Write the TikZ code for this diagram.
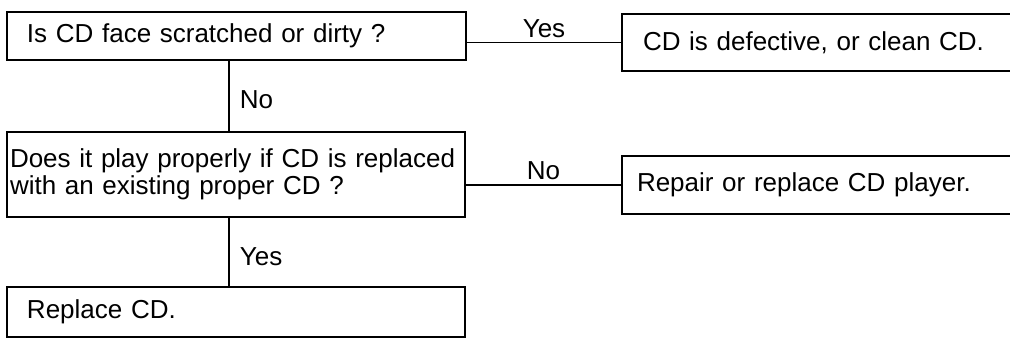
\documentclass[tikz,border=0pt]{standalone}
\usepackage{fontspec}
\setmainfont{Liberation Sans}
\usetikzlibrary{positioning}

\begin{document}
\begin{tikzpicture}[x=1pt, y=-1pt,
  box/.style={draw, line width=2pt, anchor=north west, inner ysep=0pt,
    outer sep=0pt, align=left, font=\fontsize{26}{27}\selectfont},
  link/.style={line width=1.9pt},
  answer/.style={inner sep=0pt, font=\fontsize{26}{27}\selectfont}]

  % frame of the page (right boxes run off the edge)
  \path[use as bounding box, clip] (0,0) rectangle (1010,341);

  % 1) question boxes (left column)
  \node[box, text width=419pt, inner xsep=20pt, minimum height=48pt] (face) at (7,12)
    {Is CD face scratched or dirty ?};
  \node[box, text width=452pt, inner xsep=3pt, minimum height=85pt] (swap) at (7,132)
    {Does it play properly if CD is replaced\\with an existing proper CD ?};
  \node[box, text width=418pt, inner xsep=20pt, minimum height=50pt] (replace) at (7,287)
    {Replace CD.};

  % 2) result boxes (right column)
  \node[box, text width=356pt, inner xsep=21pt, minimum height=57pt] (clean) at (622,14)
    {CD is defective, or clean CD.};
  \node[box, text width=368pt, inner xsep=15pt, minimum height=58pt] (repair) at (622,156)
    {Repair or replace CD player.};

  % 3) connectors
  \coordinate (stem) at (229,0);
  \draw[link] (clean.west -| face.east) -- node[answer, above=4pt] (yes1) {Yes} (clean.west);
  \draw[link] (face.south -| stem) -- node[answer, right=10pt, pos=0.55] (no1) {No} (swap.north -| stem);
  \draw[link] (repair.west -| swap.east) -- node[answer, above=4pt] (no2) {No} (repair.west);
  \draw[link] (swap.south -| stem) -- node[answer, right=10pt, pos=0.57] (yes2) {Yes} (replace.north -| stem);
\end{tikzpicture}
\end{document}
